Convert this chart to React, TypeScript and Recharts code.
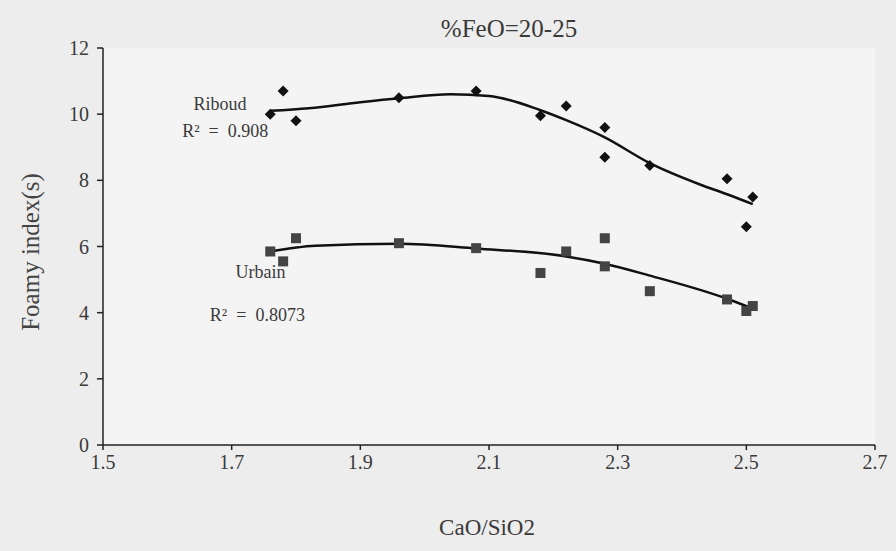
import React from "react"
import {
  ComposedChart,
  Line,
  Scatter,
  XAxis,
  YAxis,
  ReferenceArea,
  ReferenceDot,
} from "recharts"

// CaO/SiO2 values and foamy index
const riboudX = [1.76, 1.78, 1.8, 1.96, 2.08, 2.18, 2.22, 2.28, 2.28, 2.35, 2.47, 2.51, 2.5]
const riboudY = [10.0, 10.7, 9.8, 10.5, 10.7, 9.95, 10.25, 9.6, 8.7, 8.45, 8.05, 7.5, 6.6]

const urbainX = [1.76, 1.8, 1.78, 1.96, 2.08, 2.18, 2.22, 2.28, 2.28, 2.35, 2.47, 2.51, 2.5]
const urbainY = [5.85, 6.25, 5.55, 6.1, 5.95, 5.2, 5.85, 6.25, 5.4, 4.65, 4.4, 4.2, 4.05]

// polynomial trend curves
const riboudTrendX = [1.76, 1.82, 1.9, 1.96, 2.04, 2.1, 2.18, 2.22, 2.28, 2.35, 2.43, 2.47, 2.51]
const riboudTrendY = [10.1, 10.18, 10.36, 10.48, 10.6, 10.55, 10.12, 9.82, 9.3, 8.52, 7.86, 7.58, 7.28]

const urbainTrendX = [1.76, 1.83, 1.96, 2.08, 2.22, 2.28, 2.35, 2.47, 2.51]
const urbainTrendY = [5.85, 6.02, 6.08, 5.94, 5.7, 5.48, 5.12, 4.42, 4.12]

const xTicks = [1.5, 1.7, 1.9, 2.1, 2.3, 2.5, 2.7]
const yTicks = [0, 2, 4, 6, 8, 10, 12]

const zip = (xs: number[], ys: number[]) => xs.map((x, i) => ({ x, y: ys[i] }))

const riboud = zip(riboudX, riboudY)
const urbain = zip(urbainX, urbainY)
const riboudTrend = zip(riboudTrendX, riboudTrendY)
const urbainTrend = zip(urbainTrendX, urbainTrendY)

const FONT = "'Liberation Serif', 'DejaVu Serif', serif"
const TEXT = "#3a3a3a"
const NB = "\u00a0"

const Diamond = (props: any) => {
  const { cx, cy } = props
  if (cx == null || cy == null) return null
  const r = 5.5
  return (
    <polygon
      points={`${cx},${cy - r} ${cx + r},${cy} ${cx},${cy + r} ${cx - r},${cy}`}
      fill="#111"
    />
  )
}

const Square = (props: any) => {
  const { cx, cy } = props
  if (cx == null || cy == null) return null
  const s = 10
  return <rect x={cx - s / 2} y={cy - s / 2} width={s} height={s} fill="#444" />
}

const note = (value: string) => ({
  value,
  position: "center" as const,
  fill: TEXT,
  fontSize: 18,
  fontFamily: FONT,
})

export default function App() {
  return (
    <div
      style={{
        position: "absolute",
        left: 0,
        top: 0,
        width: 896,
        height: 551,
        background: "#ededed",
        fontFamily: FONT,
        overflow: "hidden",
      }}
    >
      <ComposedChart
        width={896}
        height={551}
        margin={{ top: 48, right: 21, left: 0, bottom: 0 }}
      >
        <ReferenceArea
          x1={1.5}
          x2={2.7}
          y1={0}
          y2={12}
          fill="#f4f4f4"
          fillOpacity={1}
          stroke="none"
        />
        <XAxis
          dataKey="x"
          type="number"
          domain={[1.5, 2.7]}
          ticks={xTicks}
          allowDataOverflow
          height={106}
          tickSize={5}
          tickMargin={5}
          stroke="#222"
          strokeWidth={1.5}
          tick={{ fill: TEXT, fontSize: 20, fontFamily: FONT }}
          tickFormatter={(v: number) => v.toFixed(1)}
        />
        <XAxis
          xAxisId="top"
          orientation="top"
          dataKey="x"
          type="number"
          domain={[1.5, 2.7]}
          allowDataOverflow
          height={0}
          tick={false}
          tickLine={false}
          stroke="#666"
        />
        <YAxis
          type="number"
          domain={[0, 12]}
          ticks={yTicks}
          width={103}
          tickSize={6}
          tickMargin={8}
          stroke="#222"
          strokeWidth={1.5}
          tick={{ fill: TEXT, fontSize: 20, fontFamily: FONT }}
        />
        <YAxis
          yAxisId="right"
          orientation="right"
          type="number"
          domain={[0, 12]}
          width={0}
          tick={false}
          tickLine={false}
          stroke="#555"
          strokeWidth={1.5}
        />
        <Line
          data={riboudTrend}
          dataKey="y"
          type="monotone"
          dot={false}
          stroke="#111"
          strokeWidth={2.5}
          isAnimationActive={false}
        />
        <Line
          data={urbainTrend}
          dataKey="y"
          type="monotone"
          dot={false}
          stroke="#111"
          strokeWidth={2.5}
          isAnimationActive={false}
        />
        <Scatter data={riboud} dataKey="y" shape={Diamond} isAnimationActive={false} />
        <Scatter data={urbain} dataKey="y" shape={Square} isAnimationActive={false} />
        <ReferenceDot x={1.682} y={10.32} r={0} stroke="none" label={note("Riboud")} />
        <ReferenceDot
          x={1.69}
          y={9.5}
          r={0}
          stroke="none"
          label={note(`R²${NB}${NB}=${NB}${NB}0.908`)}
        />
        <ReferenceDot x={1.745} y={5.23} r={0} stroke="none" label={note("Urbain")} />
        <ReferenceDot
          x={1.74}
          y={3.93}
          r={0}
          stroke="none"
          label={note(`R²${NB}${NB}=${NB}${NB}0.8073`)}
        />
      </ComposedChart>
      <div
        style={{
          position: "absolute",
          left: 509,
          top: 29,
          transform: "translate(-50%, -50%)",
          fontSize: 25,
          color: TEXT,
          whiteSpace: "nowrap",
        }}
      >
        %FeO=20-25
      </div>
      <div
        style={{
          position: "absolute",
          left: 487,
          top: 528,
          transform: "translate(-50%, -50%)",
          fontSize: 23,
          color: TEXT,
          whiteSpace: "nowrap",
        }}
      >
        CaO/SiO2
      </div>
      <div
        style={{
          position: "absolute",
          left: 31,
          top: 252,
          transform: "translate(-50%, -50%) rotate(-90deg)",
          fontSize: 25,
          color: "#444",
          whiteSpace: "nowrap",
        }}
      >
        Foamy index(s)
      </div>
    </div>
  )
}
